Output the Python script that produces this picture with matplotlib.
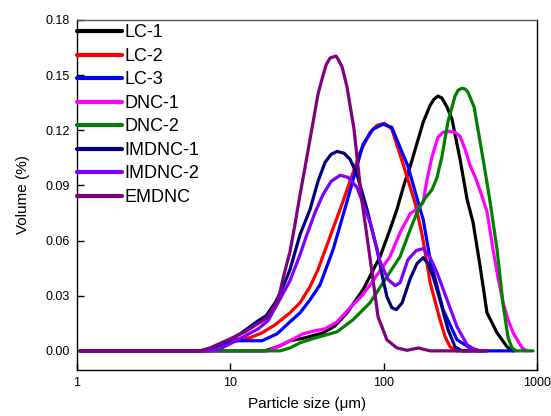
import matplotlib
matplotlib.use("Agg")
import matplotlib.pyplot as plt
from matplotlib.ticker import FormatStrFormatter, NullLocator

plt.rcParams['font.family'] = ['Liberation Sans', 'DejaVu Sans']

# particle size (um) and volume (%)
lc1_x = [1.05, 16.8, 21.1, 24.5, 30.7, 40.3, 48.2, 57.7, 73.4, 94.8, 110, 122, 136, 149,
         181, 201, 213, 226, 240, 259, 279, 315, 350, 383, 426, 472, 549, 638, 699]
lc1_y = [0, 0, 0.0027, 0.0055, 0.0071, 0.0098, 0.0136, 0.0207, 0.0333, 0.0513, 0.0660, 0.0769,
         0.0906, 0.1004, 0.1244, 0.1336, 0.1369, 0.1386, 0.1375, 0.1326, 0.1260, 0.1042,
         0.0824, 0.0698, 0.0458, 0.0207, 0.0098, 0.0022, 0]

lc2_x = [1.05, 6.84, 7.94, 9.66, 11.2, 13.4, 16.1, 19.6, 24.5, 28.5, 33.1, 37.3, 42.8, 54.3,
         70.2, 81.5, 90.6, 101, 113, 134, 160, 178, 201, 233, 252, 271, 297, 366]
lc2_y = [0, 0, 0.0022, 0.0049, 0.0065, 0.0071, 0.0098, 0.0142, 0.0207, 0.0262, 0.0349, 0.0442,
         0.0578, 0.0813, 0.1080, 0.1189, 0.1227, 0.1238, 0.1206, 0.1015, 0.0807, 0.0633,
         0.0371, 0.0169, 0.0076, 0.0022, 0, 0]

lc3_x = [1.05, 6.84, 7.94, 9.66, 11.2, 16.1, 20.2, 24.5, 28.5, 33.1, 38.5, 46.8, 57.7, 73.4,
         85.3, 99.1, 113, 144, 168, 181, 201, 244, 301, 366, 426, 720]
lc3_y = [0, 0, 0.0022, 0.0044, 0.0055, 0.0055, 0.0093, 0.0158, 0.0207, 0.0278, 0.0360, 0.0551,
         0.0813, 0.1124, 0.1206, 0.1233, 0.1216, 0.1004, 0.0807, 0.0715, 0.0496, 0.0224,
         0.0060, 0.0016, 0, 0]

dnc1_x = [1.05, 17.6, 20.2, 24.5, 29.8, 35.7, 41.5, 49.7, 60.4, 72.3, 85.3, 110, 128, 149,
          168, 181, 192, 207, 226, 244, 263, 292, 315, 340, 366, 401, 438, 472, 517, 557,
          601, 648, 699, 800, 861]
dnc1_y = [0, 0, 0.0022, 0.0055, 0.0093, 0.0109, 0.0120, 0.0158, 0.0235, 0.0300, 0.0382, 0.0513,
          0.0644, 0.0747, 0.0775, 0.0807, 0.0933, 0.1058, 0.1162, 0.1189, 0.1195, 0.1189,
          0.1167, 0.1096, 0.1009, 0.0933, 0.0840, 0.0758, 0.0551, 0.0398, 0.0262, 0.0169,
          0.0098, 0.0016, 0]

dnc2_x = [1.05, 21.1, 24.5, 28.5, 34.1, 40.3, 49.7, 63.1, 81.5, 102, 128, 149, 168, 186, 207,
          223, 240, 263, 292, 306, 325, 340, 355, 389, 426, 459, 494, 549, 601, 648, 688,
          731, 943]
dnc2_y = [0, 0, 0.0016, 0.0044, 0.0065, 0.0082, 0.0104, 0.0169, 0.0262, 0.0387, 0.0513, 0.0660,
          0.0769, 0.0829, 0.0878, 0.0944, 0.1058, 0.1249, 0.1386, 0.1418, 0.1429, 0.1424,
          0.1407, 0.1326, 0.1135, 0.0976, 0.0813, 0.0551, 0.0251, 0.0071, 0.0016, 0, 0]

imdnc1_x = [1.05, 6.34, 7.37, 8.57, 9.95, 11.6, 13.4, 15.2, 17.1, 19.6, 21.7, 24.5, 28.5, 33.1,
            37.3, 41.5, 45.4, 49.7, 55.2, 60.4, 67.0, 77.9, 90.6, 99.1, 105, 113, 121, 132,
            149, 165, 181, 195, 210, 233, 263, 292, 325, 426]
imdnc1_y = [0, 0, 0.0011, 0.0033, 0.0060, 0.0093, 0.0131, 0.0164, 0.0191, 0.0262, 0.0333, 0.0442,
            0.0633, 0.0769, 0.0922, 0.1026, 0.1069, 0.1085, 0.1075, 0.1042, 0.0960, 0.0769,
            0.0551, 0.0387, 0.0295, 0.0235, 0.0224, 0.0262, 0.0393, 0.0475, 0.0507, 0.0475,
            0.0404, 0.0278, 0.0115, 0.0022, 0, 0]

imdnc2_x = [1.05, 7.37, 8.57, 9.95, 12.5, 15.2, 17.6, 20.5, 24.5, 28.5, 31.6, 35.7, 40.3, 45.4,
            52.0, 58.6, 67.0, 81.5, 94.8, 107, 119, 128, 144, 163, 181, 201, 223, 259, 301,
            350, 406, 459]
imdnc2_y = [0, 0, 0.0011, 0.0038, 0.0082, 0.0120, 0.0164, 0.0262, 0.0382, 0.0524, 0.0633, 0.0753,
            0.0851, 0.0922, 0.0955, 0.0944, 0.0889, 0.0698, 0.0486, 0.0387, 0.0355, 0.0371,
            0.0496, 0.0546, 0.0556, 0.0507, 0.0425, 0.0278, 0.0131, 0.0033, 0, 0]

emdnc_x = [1.05, 6.34, 7.37, 9.66, 12.5, 17.4, 20.5, 22.4, 24.5, 26.4, 28.5, 30.7, 33.1, 37.3,
           39.6, 42.1, 44.7, 48.9, 50.4, 53.6, 57.7, 64.1, 71.2, 75.6, 84.0, 91.9, 99.1, 105,
           122, 142, 168, 201, 472]
emdnc_y = [0, 0, 0.0016, 0.0060, 0.0104, 0.0180, 0.0278, 0.0415, 0.0540, 0.0687, 0.0851, 0.0998,
           0.1151, 0.1396, 0.1478, 0.1555, 0.1593, 0.1604, 0.1587, 0.1544, 0.1435, 0.1205,
           0.0851, 0.0698, 0.0425, 0.0185, 0.0115, 0.0060, 0.0016, 0.0003, 0.0016, 0, 0]

series = [
    ('LC-1', lc1_x, lc1_y, '#000000'),
    ('LC-2', lc2_x, lc2_y, '#ff0000'),
    ('LC-3', lc3_x, lc3_y, '#0000ff'),
    ('DNC-1', dnc1_x, dnc1_y, '#ff00ff'),
    ('DNC-2', dnc2_x, dnc2_y, '#008000'),
    ('IMDNC-1', imdnc1_x, imdnc1_y, '#000080'),
    ('IMDNC-2', imdnc2_x, imdnc2_y, '#8000ff'),
    ('EMDNC', emdnc_x, emdnc_y, '#800080'),
]

fig = plt.figure(figsize=(5.51, 4.16), dpi=100)
ax = fig.add_axes([0.1397, 0.1106, 0.8349, 0.8414])

for name, xs, ys, col in series:
    ax.plot(xs, ys, color=col, linewidth=2.3, label=name,
            solid_capstyle='round', solid_joinstyle='round')

ax.set_xscale('log')
ax.set_xlim(1, 1000)
ax.set_ylim(-0.0104, 0.18)
ax.set_xticks([1, 10, 100, 1000])
ax.set_xticklabels(['1', '10', '100', '1000'])
ax.xaxis.set_minor_locator(NullLocator())
ax.set_yticks([0, 0.03, 0.06, 0.09, 0.12, 0.15, 0.18])
ax.yaxis.set_major_formatter(FormatStrFormatter('%.2f'))
ax.tick_params(direction='in', length=5, width=1, labelsize=9, pad=5)

for s in ax.spines.values():
    s.set_linewidth(1.0)
ax.spines['top'].set_color('#555555')

ax.set_xlabel('Particle size (μm)', fontsize=11, labelpad=6)
ax.set_ylabel('Volume (%)', fontsize=11, labelpad=11)

leg = ax.legend(loc='upper left', bbox_to_anchor=(-0.002, 0.99), frameon=False, fontsize=13,
                handlelength=2.5, handletextpad=0.15, labelspacing=0.36,
                borderaxespad=0, borderpad=0.05)
for line in leg.get_lines():
    line.set_linewidth(3)

fig.savefig('out.png', dpi=100)
